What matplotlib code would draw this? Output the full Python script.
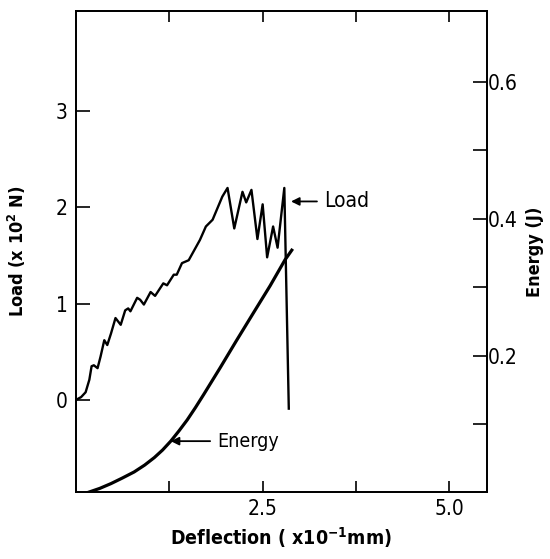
import numpy as np
import matplotlib
matplotlib.use("Agg")
import matplotlib.pyplot as plt

plt.rcParams['font.family'] = ['DejaVu Sans']
plt.rcParams['font.stretch'] = 'condensed'
plt.rcParams['mathtext.default'] = 'regular'

# load curve, deflection in x10^-1 mm, load in x10^2 N
load_x = [0.0, 0.07, 0.13, 0.18, 0.21, 0.24, 0.29, 0.33, 0.38, 0.42, 0.47, 0.53,
          0.60, 0.66, 0.70, 0.73, 0.82, 0.86, 0.91, 1.00, 1.06, 1.17, 1.22, 1.31,
          1.35, 1.42, 1.51, 1.66, 1.74, 1.83, 1.96, 2.03, 2.12, 2.23, 2.28, 2.35,
          2.43, 2.50, 2.56, 2.64, 2.70, 2.79, 2.85]
load_y = [0.0, 0.03, 0.08, 0.21, 0.35, 0.36, 0.33, 0.45, 0.62, 0.57, 0.69, 0.85,
          0.78, 0.93, 0.95, 0.92, 1.06, 1.04, 0.99, 1.12, 1.08, 1.21, 1.19, 1.30,
          1.30, 1.42, 1.45, 1.66, 1.80, 1.87, 2.11, 2.20, 1.78, 2.16, 2.05, 2.18,
          1.67, 2.03, 1.48, 1.80, 1.58, 2.20, -0.09]

# energy curve (J)
energy_x = [0.16, 0.32, 0.47, 0.62, 0.78, 0.92, 1.05, 1.16, 1.27, 1.38, 1.49,
            1.60, 1.71, 1.93, 2.15, 2.38, 2.60, 2.80, 2.89]
energy_y = [0.0, 0.006, 0.013, 0.021, 0.030, 0.040, 0.051, 0.062, 0.075, 0.090,
            0.106, 0.124, 0.143, 0.182, 0.222, 0.263, 0.302, 0.340, 0.354]

fig = plt.figure(figsize=(5.5, 5.59), dpi=100)
ax = fig.add_axes([0.138, 0.119, 0.747, 0.862])
ax2 = ax.twinx()

ax.plot(load_x, load_y, color='black', lw=1.7, solid_joinstyle='round')
ax2.plot(energy_x, energy_y, color='black', lw=2.3, solid_joinstyle='round')

ax.set_xlim(0, 5.5)
ax.set_ylim(-0.96, 4.04)
ax2.set_ylim(0, 0.704)

ax.set_xticks([1.25, 2.5, 3.75, 5.0])
ax.set_xticklabels(['', '2.5', '', '5.0'])
ax.set_yticks([0, 1, 2, 3])
ax.set_yticklabels(['0', '1', '2', '3'])
ax2.set_yticks([0.1, 0.2, 0.3, 0.4, 0.5, 0.6])
ax2.set_yticklabels(['', '0.2', '', '0.4', '', '0.6'])

ax.tick_params(axis='x', direction='in', length=8, width=1.2, top=True,
               labelsize=15, pad=5)
ax.tick_params(axis='y', direction='in', length=10, width=1.2, labelsize=15, pad=6)
ax2.tick_params(axis='y', direction='in', length=10, width=1.2, labelsize=15, pad=1)

for a in (ax, ax2):
    for s in a.spines.values():
        s.set_linewidth(1.3)

ax.set_xlabel('Deflection ( x10$^{-1}$mm)', fontsize=14, fontweight='bold', labelpad=4)
ax.set_ylabel('Load (x 10$^{2}$ N)', fontsize=13, fontweight='bold', labelpad=20)
ax2.set_ylabel('Energy (J)', fontsize=13, fontweight='bold', labelpad=6)

ax.annotate('Load', xy=(2.88, 2.06), xytext=(3.32, 2.06), fontsize=15, va='center',
            arrowprops=dict(arrowstyle='-|>', color='black', lw=1.3,
                            shrinkA=3, shrinkB=0, mutation_scale=12))
ax2.annotate('Energy', xy=(1.27, 0.075), xytext=(1.89, 0.075), fontsize=14, va='center',
             arrowprops=dict(arrowstyle='-|>', color='black', lw=1.3,
                             shrinkA=3, shrinkB=0, mutation_scale=12))

fig.savefig('out.png', dpi=100)
